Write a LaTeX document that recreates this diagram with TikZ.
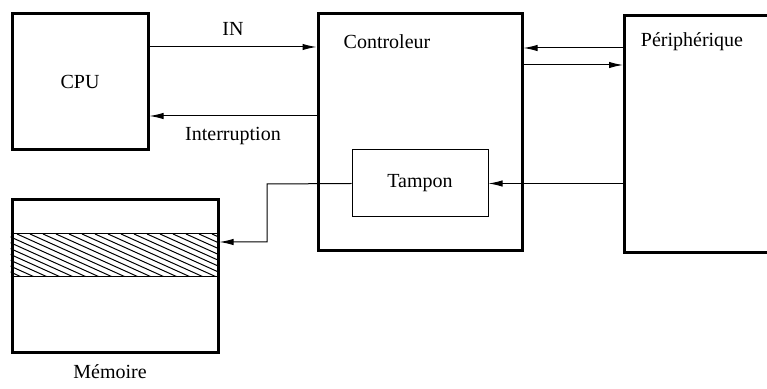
\documentclass[tikz,border=0pt]{standalone}
\usepackage{fontspec}
\setmainfont{Liberation Serif}
\usetikzlibrary{arrows.meta}

\tikzset{
    bigbox/.style={draw, line width=1.5pt, rectangle, inner sep=0pt},
    smallbox/.style={draw, line width=0.5pt, rectangle, inner sep=0pt},
    arr/.style={line width=0.5pt, -{Latex[length=7pt,width=3.2pt]}},
    wire/.style={line width=0.5pt}
}

\begin{document}
\begin{tikzpicture}[x=0.5pt, y=-0.5pt, font=\fontsize{10}{12}\selectfont]
        \useasboundingbox (0,0) rectangle (767,389);
        % Blocks
        \node[bigbox, minimum width=68pt, minimum height=68pt] (cpu) at (80,82) {CPU};
        \node[bigbox, minimum width=102pt, minimum height=118.5pt] (ctrl) at (420,132.5) {};
        \node[bigbox, minimum width=80pt, minimum height=118.5pt, anchor=north west] (peri) at (623,14) {};
        \node[smallbox, minimum width=68pt, minimum height=33.5pt] (tampon) at (420,183.5) {Tampon};
        \node[bigbox, minimum width=103pt, minimum height=76.5pt] (mem) at (115,276.5) {};
        \node (ctrltxt) at (387,42) {Controleur};
        \node (peritxt) at (692,42) {Périphérique};
        \node (memtxt) at (110,372) {Mémoire};
        % Hatched band of the memory
        \begin{scope}
            \clip (mem.west |- 0,234) rectangle (mem.east |- 0,277);
            \foreach \x in {-100,-87,...,230} {
                \draw[wire] (\x,234) -- ++(100,45);
            }
        \end{scope}
        \draw[wire] (mem.west |- 0,234) -- (mem.east |- 0,234);
        \draw[wire] (mem.west |- 0,277) -- (mem.east |- 0,277);
        % CPU <-> Controleur
        \draw[arr] (cpu.east |- 0,47) -- node[above=2pt] (intxt) {IN} (ctrl.west |- 0,47);
        \draw[arr] (ctrl.west |- 0,116) -- node[below=2pt] (irqtxt) {Interruption} (cpu.east |- 0,116);
        % Controleur <-> Peripherique
        \draw[arr] (peri.west |- 0,48) -- (ctrl.east |- 0,48);
        \draw[arr] (ctrl.east |- 0,65) -- (peri.west |- 0,65);
        \draw[arr] (peri.west |- tampon.east) -- (tampon.east);
        % Tampon -> Memoire
        \coordinate (bend) at (267,184);
        \draw[arr] (tampon.west) -- (bend) -- (bend |- 0,242) -- (mem.east |- 0,242);
    \end{tikzpicture}
\end{document}
